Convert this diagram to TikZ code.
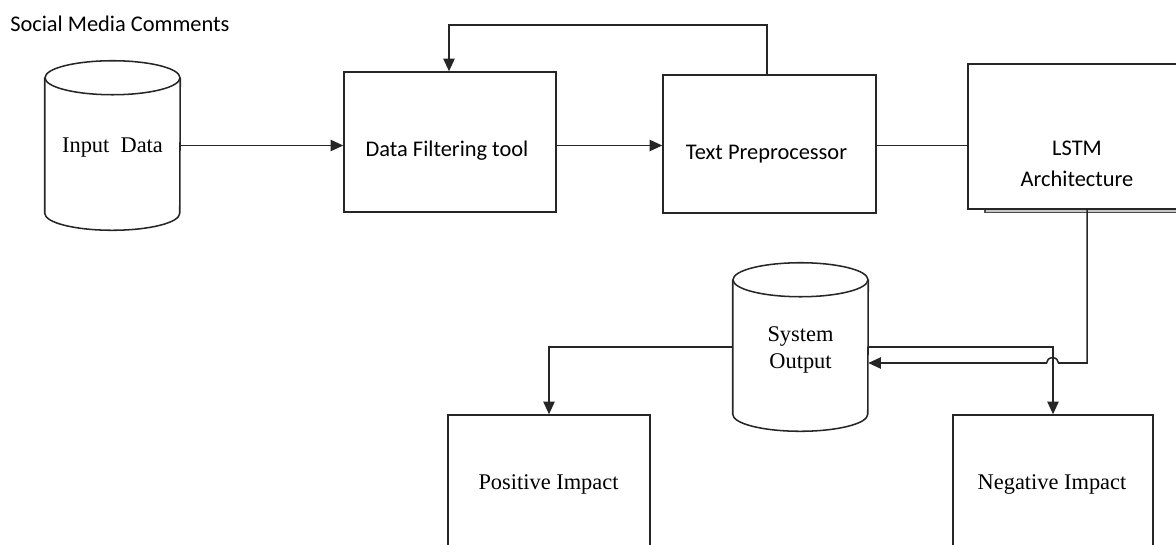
\documentclass[tikz,border=0pt]{standalone}
\usepackage{fontspec}
\setmainfont{Liberation Serif}
\newfontfamily\calibri{Carlito}
\usetikzlibrary{arrows.meta,positioning}

\newcommand{\px}{0.75pt}
\newcommand{\cylRx}{50.625pt}
\newcommand{\cylRy}{12.75pt}
\newcommand{\hopRx}{4.5pt}
\newcommand{\hopRy}{4pt}

\tikzset{
  line/.style={draw=black!85, line width=1.15pt},
  arr/.style={line, -{Triangle[length=9.5pt,width=8.5pt]}},
  box/.style={line, fill=white, inner sep=0pt},
  body/.style={inner sep=0pt, minimum width=135*\px},
  calTxt/.style={font=\calibri\fontsize{16.8}{23.25}\selectfont, inner sep=0pt, align=center},
  romTxt/.style={font=\fontsize{16.8}{20}\selectfont, inner sep=0pt, align=center}
}

\begin{document}
\begin{tikzpicture}[x=0.75pt,y=-0.75pt]

  \useasboundingbox (0,0) rectangle (1176,544);
  \clip (0,0) rectangle (1176,544);

  % Title:
  \node[calTxt, anchor=west] (title) at (10,24) {Social Media Comments};

  % Cylinders:
  \node[body, minimum height=135*\px] (inData) at (112.5,145.5) {};
  \node[body, minimum height=134*\px] (sysOut) at (800.5,347) {};
  \foreach \c in {inData, sysOut} {
    \draw[line] (\c.north) ellipse [x radius=\cylRx, y radius=\cylRy];
    \draw[line] (\c.north west) -- (\c.south west)
      arc [start angle=180, end angle=360, x radius=\cylRx, y radius=\cylRy]
      -- (\c.north east);
  }
  \node[romTxt] (inDataTxt) at (112.5,147.5) {Input\ \ Data};
  \node[romTxt, font=\fontsize{16.8}{20.25}\selectfont] (sysOutTxt) at (800.5,350) {System\\Output};

  % Boxes:
  \node[box, minimum width=212*\px, minimum height=140*\px] (filter) at (450,142) {};
  \node[box, minimum width=213*\px, minimum height=138*\px] (prep) at (769.5,144) {};
  \draw[draw=black!70, line width=0.8pt, fill=gray!45] (985,70) rectangle (1184,212.5);
  \node[box, minimum width=216*\px, minimum height=145*\px] (lstm) at (1076,136.5) {};
  \node[box, minimum width=202*\px, minimum height=150*\px] (posImp) at (549,490) {};
  \node[box, minimum width=200*\px, minimum height=150*\px] (negImp) at (1053,490) {};

  \node[calTxt] (filterTxt) at (447,150.5) {Data Filtering tool};
  \node[calTxt] (prepTxt) at (766.5,154) {Text Preprocessor};
  \node[calTxt] (lstmTxt) at (1077,164) {LSTM\\Architecture};
  \node[romTxt] (posImpTxt) at (548.5,484.5) {Positive Impact};
  \node[romTxt] (negImpTxt) at (1052,484.5) {Negative Impact};

  % Connectors:
  \coordinate (loopTop) at (449,25);
  \coordinate (lstmOut) at (1087,209);
  \coordinate (hopStart) at (1058.5,363);

  \draw[arr] (inData.east) -- (inData.east -| filter.west);
  \draw[arr] (filter.east |- inData.east) -- (prep.west |- inData.east);
  \draw[line] (prep.east |- inData.east) -- (lstm.west |- inData.east);
  \draw[arr] (prep.north -| 767,0) |- (loopTop) -- (loopTop |- filter.north);

  \draw[arr] (sysOut.west) -| (posImp.north);
  \draw[arr] (sysOut.east) -| (negImp.north);
  \draw[arr] (lstmOut) |- (hopStart)
    arc [start angle=0, end angle=180, x radius=\hopRx, y radius=\hopRy]
    -- (sysOut.east |- hopStart);

\end{tikzpicture}
\end{document}
